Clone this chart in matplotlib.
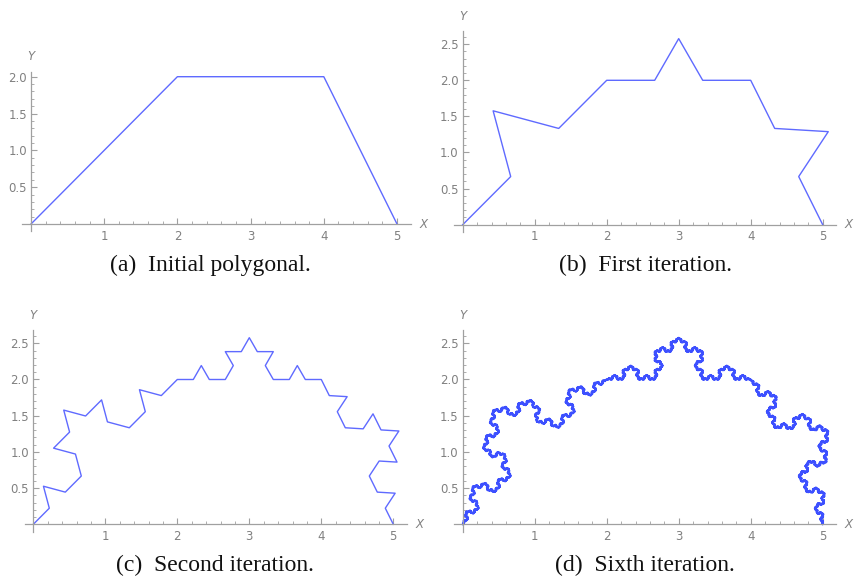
import numpy as np
import matplotlib
matplotlib.use("Agg")
import matplotlib.pyplot as plt
from matplotlib.ticker import FixedLocator, FuncFormatter

# Initial polygonal (vertices)
init_x = [0, 2, 4, 5]
init_y = [0, 2, 2, 0]
iterations = [0, 1, 2, 6]
captions = ["(a)  Initial polygonal.", "(b)  First iteration.",
            "(c)  Second iteration.", "(d)  Sixth iteration."]
x_ticks = [1, 2, 3, 4, 5]
y_ticks_a = [0.5, 1.0, 1.5, 2.0]
y_ticks = [0.5, 1.0, 1.5, 2.0, 2.5]


def koch_step(pts):
    out = [pts[0]]
    rot = np.exp(1j * np.pi / 3)
    for a, b in zip(pts[:-1], pts[1:]):
        d = (b - a) / 3
        p1 = a + d
        p2 = p1 + d * rot
        p3 = a + 2 * d
        out.extend([p1, p2, p3, b])
    return np.array(out)


def koch(n):
    pts = np.array(init_x, float) + 1j * np.array(init_y, float)
    for _ in range(n):
        pts = koch_step(pts)
    return pts


W, H = 855, 579
fig = plt.figure(figsize=(W / 100, H / 100), dpi=100)

# pixel geometry: (x0 px, y0 px from top, sx, sy, ytop)
panels = [
    (31.0, 224.0, 73.2, 73.65, 2.07),
    (462.7, 224.7, 72.0, 72.2, 2.68),
    (33.3, 524.3, 72.0, 72.4, 2.68),
    (462.7, 524.3, 72.0, 72.4, 2.68),
]
caption_pos = [(210, 265), (645, 265), (215, 565), (645, 565)]

gray_axis = "#a0a0a0"
gray_text = "#808080"
xmin, xmax, ymin = -0.12, 5.19, -0.1

for i, (x0, y0, sx, sy, ytop) in enumerate(panels):
    left = x0 + xmin * sx
    width = (xmax - xmin) * sx
    bottom_px = y0 - ymin * sy
    height = (ytop - ymin) * sy
    ax = fig.add_axes([left / W, 1 - bottom_px / H, width / W, height / H])
    ax.set_xlim(xmin, xmax)
    ax.set_ylim(ymin, ytop)
    pts = koch(iterations[i])
    if iterations[i] >= 6:
        ax.plot(pts.real, pts.imag, color="#3d50ff", lw=1.35, solid_joinstyle="round")
    else:
        ax.plot(pts.real, pts.imag, color="#5f6aff", lw=1.0)
    for s in ["top", "right"]:
        ax.spines[s].set_visible(False)
    ax.spines["left"].set_position(("data", 0))
    ax.spines["bottom"].set_position(("data", 0))
    for s in ["left", "bottom"]:
        ax.spines[s].set_color(gray_axis)
        ax.spines[s].set_linewidth(0.9)
    ax.patch.set_alpha(0)
    yt = y_ticks_a if i == 0 else y_ticks
    ax.xaxis.set_major_locator(FixedLocator(x_ticks))
    ax.yaxis.set_major_locator(FixedLocator(yt))
    ax.xaxis.set_minor_locator(FixedLocator([k * 0.2 for k in range(1, 26) if k % 5]))
    ax.yaxis.set_minor_locator(FixedLocator([k * 0.1 for k in range(1, int(ytop * 10) + 1) if k % 5]))
    ax.xaxis.set_major_formatter(FuncFormatter(lambda v, p: f"{v:.0f}"))
    ax.yaxis.set_major_formatter(FuncFormatter(lambda v, p: f"{v:.1f}"))
    ax.tick_params(which="major", direction="in", length=4, width=0.8, color=gray_axis,
                   labelsize=8.5, labelcolor=gray_text, pad=3)
    ax.tick_params(which="minor", direction="in", length=2.2, width=0.6, color=gray_axis)
    ax.tick_params(axis="x", which="major", pad=4)
    # axis labels
    fig.text((x0 + 5.36 * sx) / W, 1 - y0 / H, "X", color=gray_text, fontsize=8.5,
             style="italic", ha="center", va="center")
    fig.text(x0 / W, 1 - (y0 - (ytop + 0.21) * sy) / H, "Y", color=gray_text, fontsize=8.5,
             style="italic", ha="center", va="center")
    cx, cy = caption_pos[i]
    fig.text(cx / W, 1 - cy / H, captions[i], fontsize=17, family="Liberation Serif",
             ha="center", va="center", color="#111111")

fig.savefig("out.png", dpi=100)
